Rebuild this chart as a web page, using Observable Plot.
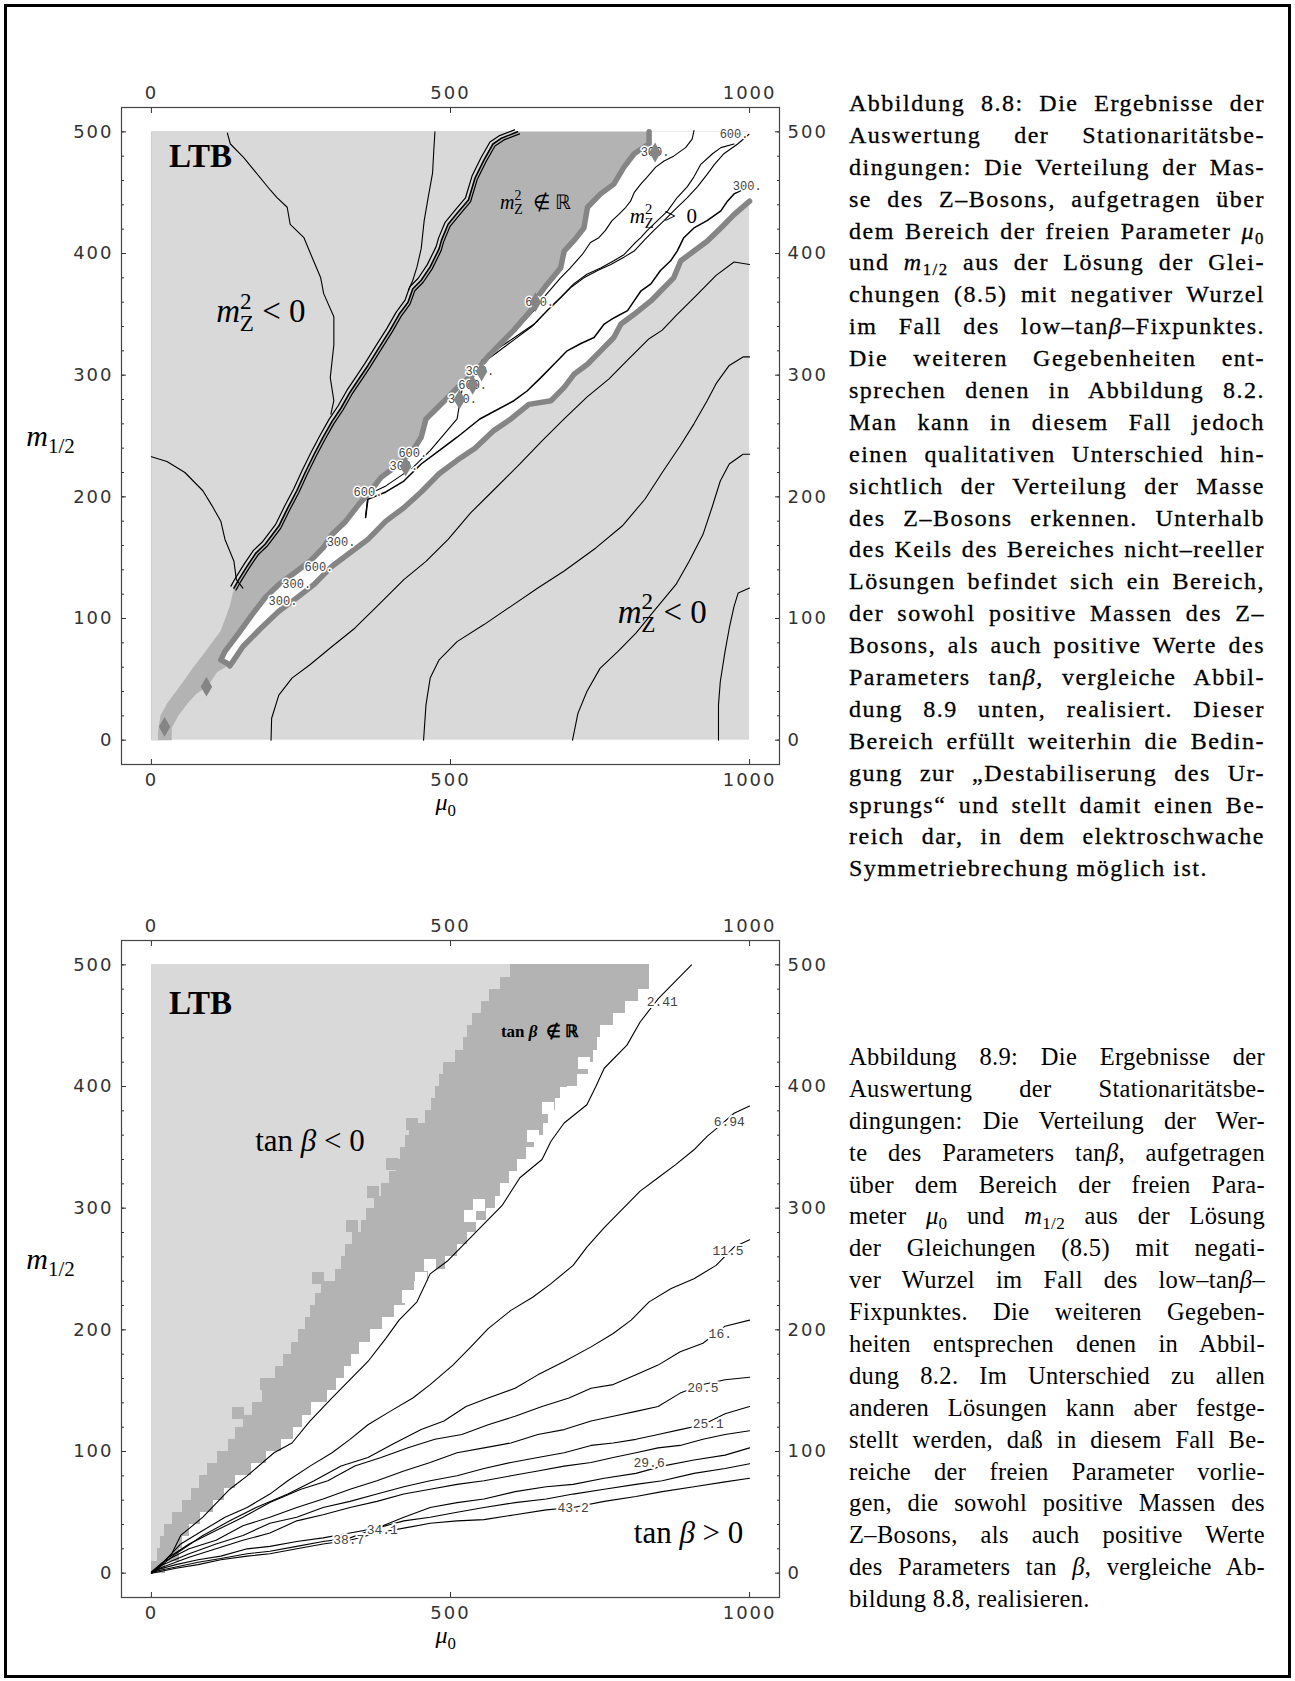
<!DOCTYPE html>
<html><head><meta charset="utf-8">
<script src="https://cdn.jsdelivr.net/npm/d3@7"></script>
<script src="https://cdn.jsdelivr.net/npm/@observablehq/plot@0.6"></script>
<style>
html,body{margin:0;padding:0;background:#fff;}
#page{position:relative;width:1295px;height:1681px;overflow:hidden;background:#fff;}
#border{position:absolute;left:4px;top:4px;width:1281px;height:1668px;border:3px solid #000;}
.chart{position:absolute;left:0;}
.cap{position:absolute;left:849px;width:416px;font-family:"Liberation Serif",serif;color:#000;}
.cap .ln{height:31.9px;line-height:31.9px;white-space:nowrap;}
.cap sub{font-size:70%;vertical-align:-0.3em;line-height:0;}
#capA{font-size:24px;letter-spacing:1.5px;-webkit-text-stroke:0.3px #000;}
#capB{font-size:24.5px;letter-spacing:0.35px;}
</style></head>
<body><div id="page"><div id="border"></div><div id="capA" class="cap"></div><div id="capB" class="cap"></div></div>
<script>
// ---------- shared ticks / ranges ----------
const xMajor = [0, 500, 1000];
const yMajor = [0, 100, 200, 300, 400, 500];
const yMinor = [0,20,40,60,80,100,120,140,160,180,200,220,240,260,280,300,320,340,360,380,400,420,440,460,480,500];
const muRange = [0, 1000];
const mRange = [0, 500];

// ---------- Abbildung 8.8 (m_Z) ----------
const mzWedgeLeft = [[612,500],[586,495],[571,490],[556,477],[541,462],[530,444],[511,433],[496,424],[485,411],[481,404],[466,389],[451,378],[437,371],[429,360],[414,350],[399,337],[381,323],[362,308],[347,297],[332,286],[317,273],[302,262],[287,249],[272,235],[257,220],[243,205],[228,191],[213,176],[190,161],[175,154],[160,143],[146,132],[138,125],[131,110],[116,90],[101,80],[86,70],[70,60],[56,50],[41,40],[26,30],[15,20],[11,7],[11,0],[0,0]];
const mzUpperGray = [[832,500],[832,490],[807,482],[790,471],[773,457],[751,449],[729,438],[723,421],[707,411],[690,402],[684,388],[662,375],[645,364],[634,353],[606,337],[584,326],[562,315],[539,301],[512,290],[490,279],[459,264],[451,249],[437,238],[414,227],[384,216],[362,202],[347,194],[325,180],[302,169],[287,158],[265,147],[235,136],[213,128],[190,117],[168,103],[146,88],[123,73],[116,66],[131,62]];
const mzLowerGray = [[1000,443],[974,432],[952,421],[929,410],[907,402],[885,394],[873,380],[851,369],[835,361],[807,350],[785,342],[773,331],[751,320],[729,309],[707,301],[690,290],[668,279],[631,276],[601,264],[571,254],[541,240],[511,230],[481,219],[451,204],[422,191],[392,180],[362,165],[332,154],[302,143],[272,128],[243,117],[213,106],[183,92],[153,77],[138,66],[131,61]];
const mzDarkTail = [[110,56],[95,45],[75,38],[60,30],[45,20],[34,10],[34,0]];
const mzCont1 = [[127,499],[132,490],[154,479],[199,452],[210,446],[227,438],[232,424],[255,413],[271,394],[283,380],[288,367],[305,348],[305,325],[299,298],[305,279],[300,268]];
const mzCont2 = [[0,233],[26,229],[56,220],[86,205],[101,193],[116,180],[123,165],[138,147],[142,132],[153,125]];
const mzCont3 = [[474,500],[472,484],[470,466],[463,447],[456,427],[451,404],[444,389],[437,378],[430,370]];
const mzContA = [[1000,391],[974,393],[944,382],[914,367],[877,349],[854,337],[832,330],[795,312],[765,297],[728,282],[690,264],[653,246],[616,227],[571,205],[534,187],[496,165],[459,147],[422,132],[377,110],[340,92],[302,77],[265,62],[235,51],[213,37],[201,18],[200,0]];
const mzContB = [[1000,315],[989,315],[966,308],[944,293],[929,279],[907,260],[884,242],[854,220],[825,198],[787,176],[743,158],[690,139],[646,125],[601,110],[556,95],[511,81],[481,66],[466,51],[459,29],[455,0]];
const mzContC = [[1000,235],[989,235],[966,227],[951,213],[937,191],[922,169],[899,147],[877,128],[840,106],[810,88],[780,73],[750,59],[728,40],[713,22],[704,0]];
const mzContD = [[1000,125],[981,121],[974,110],[966,92],[959,73],[951,48],[948,29],[948,0]];
const mzBand1 = [[907,501],[904,494],[893,487],[873,480],[857,476],[843,471],[829,463],[818,457],[807,450],[801,443],[793,438],[781,432],[770,427],[759,419],[748,413],[734,409],[720,399],[700,388],[684,380],[670,372],[656,364],[645,356],[628,347],[611,339],[595,331],[573,320],[550,309],[539,301],[520,290],[511,264],[466,238],[437,224],[392,209],[362,202],[358,183]];
const mzBand2 = [[974,490],[952,487],[938,482],[918,473],[907,463],[896,455],[879,446],[863,435],[846,427],[829,419],[818,413],[807,408],[790,399],[773,394],[751,388],[728,383],[706,375],[684,364],[667,356],[640,342],[610,332],[580,322],[552,312]];
const mzBand3 = [[999,498],[980,490],[957,482],[941,473],[929,465],[913,455],[896,446],[873,435],[857,427],[840,419],[824,411],[807,402],[790,397],[768,391],[746,386],[723,380],[701,372],[679,361],[662,353],[636,340],[606,329],[576,318],[549,308]];
const mzBand4 = [[999,455],[974,449],[963,443],[952,435],[929,427],[907,421],[890,413],[879,402],[868,394],[851,386],[835,375],[818,369],[807,361],[796,353],[773,347],[757,342],[740,331],[718,326],[695,320],[673,309],[651,298],[628,287],[606,279],[549,264],[511,249],[481,238],[451,227],[422,213],[392,204],[362,198],[358,183]];
const mzLabelX = [974, 996, 842, 649, 549, 537, 520, 437, 422, 362, 317, 280, 243, 220];
const mzLabelY = [498, 455, 483, 360, 303, 292, 280, 236, 225, 204, 163, 142, 128, 114];
const mzLabelT = ["600.","300.","300.","600.","300.","600.","300.","600.","300.","600.","300.","600.","300.","300."];
const mzDiamonds = [[842,483],[642,360],[552,303],[537,292],[515,280],[425,225],[92,44],[22,11]];

// ---------- Abbildung 8.9 (tan beta) ----------
const tbRowY = [0,10,20,30,40,50,60,70,80,90,100,110,120,130,140,150,160,170,180,190,200,210,220,230,240,250,260,270,280,290,300,310,320,330,340,350,360,370,380,390,400,410,420,430,440,450,460,470,480,490];
const tbLeft = [0,11,15,22,35,52,67,80,94,111,129,141,154,169,185,197,207,220,234,246,258,266,274,284,308,317,324,336,351,360,373,385,398,409,417,425,432,459,469,475,482,489,509,522,529,537,551,565,583,600];
const tbRight = [24,47,52,63,82,103,122,140,167,193,217,237,253,268,294,310,322,334,348,366,386,406,425,440,464,491,511,528,544,560,575,584,599,612,627,641,655,664,675,695,713,731,739,745,751,772,793,815,832,832];
const tbDarkSpecks = [[437,369],[403,336],[371,313],[336,285],[280,242],[192,155],[146,131]];
const tbWhiteSpecks = [[638,359],[664,382],[694,394],[724,419],[549,302],[534,293],[466,253],[451,242],[429,227]];
const tb241 = [[903,500],[877,487],[847,472],[817,453],[795,434],[757,415],[743,400],[728,385],[690,370],[668,355],[653,340],[616,325],[586,302],[556,287],[526,272],[496,257],[466,246],[444,223],[414,208],[392,193],[362,174],[332,159],[302,144],[265,125],[235,107],[205,99],[160,80],[131,69],[86,46],[49,31],[34,16],[4,1]];
const tb694 = [[1000,384],[974,378],[951,368],[929,359],[907,348],[877,336],[847,325],[817,314],[787,299],[757,284],[728,268],[705,253],[668,238],[638,227],[601,216],[563,201],[534,186],[504,171],[466,155],[437,144],[399,133],[362,122],[332,110],[302,99],[265,88],[228,76],[198,65],[160,54],[123,46],[86,35],[49,24],[26,12],[4,1]];
const tb115 = [[1000,274],[974,268],[944,253],[907,242],[869,234],[832,223],[802,208],[772,197],[735,186],[690,174],[646,163],[608,152],[563,144],[526,137],[489,125],[451,118],[407,107],[362,95],[317,88],[272,76],[228,65],[175,54],[131,43],[86,31],[41,16],[4,1]];
const tb160 = [[1000,208],[959,203],[922,189],[884,182],[847,171],[810,163],[772,155],[735,152],[698,144],[653,137],[608,129],[563,122],[519,114],[474,110],[429,103],[384,95],[340,88],[295,76],[250,69],[198,58],[153,46],[108,35],[63,24],[26,12],[4,1]];
const tb205 = [[1000,161],[959,159],[922,155],[884,148],[847,137],[810,133],[772,129],[735,125],[690,118],[646,114],[601,107],[556,103],[511,99],[466,91],[422,84],[377,76],[332,69],[287,61],[243,54],[198,46],[153,39],[108,27],[63,20],[19,9],[0,1]];
const tb251 = [[1000,137],[959,131],[922,122],[884,118],[847,114],[810,110],[772,107],[735,105],[690,99],[646,95],[601,91],[556,86],[511,80],[466,76],[422,71],[377,65],[332,59],[287,54],[243,46],[198,41],[153,31],[108,24],[63,16],[19,7],[0,1]];
const tb296 = [[1000,117],[959,114],[922,110],[884,105],[847,103],[810,99],[772,95],[735,91],[690,88],[646,84],[601,80],[556,76],[511,73],[466,69],[422,65],[377,59],[332,54],[287,48],[243,43],[198,33],[153,27],[108,20],[63,13],[19,5],[0,1]];
const tb341 = [[1000,103],[959,97],[907,93],[854,88],[810,82],[757,78],[705,73],[660,71],[608,67],[556,61],[511,58],[466,54],[422,46],[377,37],[332,33],[287,29],[243,26],[198,22],[160,20],[116,14],[78,11],[41,7],[11,3],[0,0]];
const tb387 = [[1000,90],[959,86],[907,82],[854,76],[810,73],[757,69],[705,65],[660,61],[608,58],[556,54],[511,50],[466,46],[422,43],[377,37],[332,29],[287,26],[243,22],[198,18],[160,16],[116,12],[78,9],[41,5],[11,2],[0,0]];
const tb432 = [[1000,78],[959,75],[907,71],[854,67],[810,63],[757,59],[705,54],[660,52],[608,48],[556,44],[511,43],[466,41],[422,37],[377,33],[332,27],[287,24],[243,20],[198,16],[160,14],[116,11],[78,7],[41,4],[11,1],[0,0]];
const tbLabelX = [854, 966, 964, 951, 922, 931, 832, 386, 330, 705];
const tbLabelY = [470, 371, 265, 197, 152, 123, 91, 36, 27, 54];
const tbLabelT = ["2.41","6.94","11.5","16.","20.5","25.1","29.6","34.1","38.7","43.2"];

// ---------- captions ----------
const captionA = [
 "Abbildung 8.8: Die Ergebnisse der",
 "Auswertung der Stationaritätsbe-",
 "dingungen: Die Verteilung der Mas-",
 "se des Z–Bosons, aufgetragen über",
 "dem Bereich der freien Parameter <i>μ</i><sub>0</sub>",
 "und <i>m</i><sub>1/2</sub> aus der Lösung der Glei-",
 "chungen (8.5) mit negativer Wurzel",
 "im Fall des low–tan<i>β</i>–Fixpunktes.",
 "Die weiteren Gegebenheiten ent-",
 "sprechen denen in Abbildung 8.2.",
 "Man kann in diesem Fall jedoch",
 "einen qualitativen Unterschied hin-",
 "sichtlich der Verteilung der Masse",
 "des Z–Bosons erkennen. Unterhalb",
 "des Keils des Bereiches nicht–reeller",
 "Lösungen befindet sich ein Bereich,",
 "der sowohl positive Massen des Z–",
 "Bosons, als auch positive Werte des",
 "Parameters tan<i>β</i>, vergleiche Abbil-",
 "dung 8.9 unten, realisiert. Dieser",
 "Bereich erfüllt weiterhin die Bedin-",
 "gung zur „Destabiliserung des Ur-",
 "sprungs“ und stellt damit einen Be-",
 "reich dar, in dem elektroschwache",
 "Symmetriebrechung möglich ist."
];
const captionB = [
 "Abbildung 8.9: Die Ergebnisse der",
 "Auswertung der Stationaritätsbe-",
 "dingungen: Die Verteilung der Wer-",
 "te des Parameters tan<i>β</i>, aufgetragen",
 "über dem Bereich der freien Para-",
 "meter <i>μ</i><sub>0</sub> und <i>m</i><sub>1/2</sub> aus der Lösung",
 "der Gleichungen (8.5) mit negati-",
 "ver Wurzel im Fall des low–tan<i>β</i>–",
 "Fixpunktes. Die weiteren Gegeben-",
 "heiten entsprechen denen in Abbil-",
 "dung 8.2. Im Unterschied zu allen",
 "anderen Lösungen kann aber festge-",
 "stellt werden, daß in diesem Fall Be-",
 "reiche der freien Parameter vorlie-",
 "gen, die sowohl positive Massen des",
 "Z–Bosons, als auch positive Werte",
 "des Parameters tan <i>β</i>, vergleiche Ab-",
 "bildung 8.8, realisieren."
];

// ---------- styling constants ----------
const LIGHT = "#d9d9d9", DARK = "#b3b3b3", GRAYLINE = "#858585";
const SERIF = "Liberation Serif";
const xy = {x: d => d[0], y: d => d[1]};

const MATH = {
  "mz<0": {F: 33, parts: [["m","i"],["2","sup"],["Z","subback"],[" < 0",""]]},
  "mz∉R": {F: 20, parts: [["m","i"],["2","sup"],["Z","subback"],["  ∉ ℝ",""]]},
  "mz>0": {F: 21, parts: [["m","i"],["2","sup"],["Z","subback"],["  >  0",""]]},
  "tb<0": {F: 31, parts: [["tan ",""],["β","i"],[" < 0",""]]},
  "tb>0": {F: 31, parts: [["tan ",""],["β","i"],[" > 0",""]]},
  "tb∉R": {F: 17, parts: [["tan ",""],["β","i"],["  ∉ ℝ",""]]},
  "m12": {F: 30, parts: [["m","i"],["1/2","sub"]]},
  "mu0": {F: 24, parts: [["μ","i"],["0","sub"]]}
};

function mathify(svg) {
  d3.select(svg).selectAll("text").each(function() {
    const spec = MATH[this.textContent];
    if (!spec) return;
    const F = spec.F, sel = d3.select(this);
    sel.text(null);
    let base = 0;
    for (const [t, kind] of spec.parts) {
      const ts = sel.append("tspan").text(t).attr("xml:space", "preserve");
      let b = 0;
      if (kind === "i") ts.attr("font-style", "italic");
      if (kind === "sup") { b = -0.42 * F; ts.attr("font-size", 0.7 * F); }
      if (kind === "sub") { b = 0.25 * F; ts.attr("font-size", 0.7 * F); }
      if (kind === "subback") { b = 0.26 * F; ts.attr("font-size", 0.7 * F).attr("dx", -0.36 * F); }
      if (b !== base) ts.attr("dy", b - base);
      base = b;
    }
  });
  d3.select(svg).selectAll('g[aria-label="x-axis tick label"], g[aria-label="y-axis tick label"]').attr("letter-spacing", "2px");
}

function axesMarks() {
  const c = {color: "#333", fontSize: 18, fontFamily: "DejaVu Sans", label: null};
  const fmt = d3.format("d");
  return [
    Plot.axisY(yMinor, {anchor: "left", tickSize: -3, tickPadding: 13, tickFormat: () => "", ...c}),
    Plot.axisY(yMinor, {anchor: "right", tickSize: -3, tickPadding: 13, tickFormat: () => "", ...c}),
    Plot.axisY(yMajor, {anchor: "left", tickSize: -5, tickPadding: 13, tickFormat: fmt, ...c}),
    Plot.axisY(yMajor, {anchor: "right", tickSize: -5, tickPadding: 13, tickFormat: fmt, ...c}),
    Plot.axisX(xMajor, {anchor: "top", tickSize: -5, tickPadding: 14, tickFormat: fmt, ...c}),
    Plot.axisX(xMajor, {anchor: "bottom", tickSize: -5, tickPadding: 14, tickFormat: fmt, ...c}),
    Plot.frame({stroke: "#444", strokeWidth: 1.2})
  ];
}

function titleMarks(m12y) {
  return [
    Plot.text(["m12"], {frameAnchor: "left", y: () => m12y, dx: -71, fontSize: 30, fontFamily: SERIF, fill: "#000", textAnchor: "middle"}),
    Plot.text(["mu0"], {frameAnchor: "bottom", x: () => 492, dy: 45, fontSize: 24, fontFamily: SERIF, fill: "#000", textAnchor: "middle"})
  ];
}

const base = {
  width: 820, height: 830, marginTop: 107, marginBottom: 66, marginLeft: 121, marginRight: 41,
  x: {domain: [-50, 1050]}, y: {domain: [-20, 520]},
  style: {background: "transparent", overflow: "visible"}
};

// ---- chart 1 ----
const bgRect = [{x1: muRange[0], x2: muRange[1], y1: mRange[0], y2: mRange[1]}];
const darkPoly = [[muRange[0], mRange[1]], ...mzUpperGray, ...mzDarkTail, [muRange[0], mRange[0]]];
const lightPoly = [[muRange[0], mRange[1]], ...mzWedgeLeft];
const whitePoly = [...mzUpperGray, ...mzLowerGray.slice().reverse(), [muRange[1], mRange[1]]];
const wedgeEdge = mzWedgeLeft.slice(0, 33);
const thin = {...xy, stroke: "#000", strokeWidth: 1.1};
const mzLabels = mzLabelT.map((t, i) => ({t, x: mzLabelX[i], y: mzLabelY[i]}));

const chart1 = Plot.plot({
  ...base,
  marks: [
    Plot.rect(bgRect, {x1: "x1", x2: "x2", y1: "y1", y2: "y2", fill: LIGHT}),
    Plot.line(darkPoly, {...xy, fill: DARK, stroke: "none"}),
    Plot.line(lightPoly, {...xy, fill: LIGHT, stroke: "none"}),
    Plot.line(whitePoly, {...xy, fill: "#fff", stroke: "none"}),
    Plot.line(mzCont1, thin), Plot.line(mzCont2, thin), Plot.line(mzCont3, thin),
    Plot.line(mzContA, thin), Plot.line(mzContB, thin), Plot.line(mzContC, thin), Plot.line(mzContD, thin),
    Plot.line(mzBand1, thin), Plot.line(mzBand2, thin), Plot.line(mzBand3, thin), Plot.line(mzBand4, {...thin, strokeWidth: 1.5}),
    Plot.line(wedgeEdge, {...xy, stroke: "#000", strokeWidth: 1.2, dx: -3, dy: -2}),
    Plot.line(wedgeEdge, {...xy, stroke: "#000", strokeWidth: 1.6}),
    Plot.line(wedgeEdge, {...xy, stroke: "#000", strokeWidth: 1.2, dx: 2, dy: 2}),
    Plot.line(mzUpperGray, {...xy, stroke: GRAYLINE, strokeWidth: 5.5}),
    Plot.line(mzLowerGray, {...xy, stroke: GRAYLINE, strokeWidth: 5.5}),
    Plot.text(mzLabels, {x: "x", y: "y", text: "t", fontSize: 12, fontFamily: "Liberation Mono", fill: "#444", stroke: "#fff", strokeWidth: 3}),
    Plot.dot(mzDiamonds, {...xy, symbol: "diamond", r: 6, fill: GRAYLINE, stroke: "none"}),
    Plot.text(["LTB"], {x: () => 82, y: () => 480, fontSize: 33, fontWeight: "bold", fontFamily: SERIF, fill: "#000"}),
    Plot.text(["mz<0"], {x: () => 183, y: () => 352, fontSize: 33, fontFamily: SERIF, fill: "#000"}),
    Plot.text(["mz<0"], {x: () => 854, y: () => 105, fontSize: 33, fontFamily: SERIF, fill: "#000"}),
    Plot.text(["mz∉R"], {x: () => 642, y: () => 442, fontSize: 20, fontFamily: SERIF, fill: "#000"}),
    Plot.text(["mz>0"], {x: () => 856, y: () => 431, fontSize: 21, fontFamily: SERIF, fill: "#000"}),
    ...titleMarks(250),
    ...axesMarks()
  ]
});

// ---- chart 2 ----
const rows = tbRowY.map((y, i) => ({y1: y, y2: y + 10, x0: muRange[0], left: tbLeft[i], right: tbRight[i]}));
const cell = (arr) => arr.map(([x, y]) => ({x1: x - 10, x2: x + 10, y1: y - 5, y2: y + 5}));
const tbLabels = tbLabelT.map((t, i) => ({t, x: tbLabelX[i], y: tbLabelY[i]}));
const tbLines = [tb241, tb694, tb115, tb160, tb205, tb251, tb296, tb341, tb387, tb432];

const chart2 = Plot.plot({
  ...base,
  marks: [
    Plot.rect(rows, {x1: "x0", x2: "left", y1: "y1", y2: "y2", fill: LIGHT, shapeRendering: "crispEdges"}),
    Plot.rect(rows, {x1: "left", x2: "right", y1: "y1", y2: "y2", fill: DARK, shapeRendering: "crispEdges"}),
    Plot.rect(cell(tbDarkSpecks), {x1: "x1", x2: "x2", y1: "y1", y2: "y2", fill: DARK, shapeRendering: "crispEdges"}),
    Plot.rect(cell(tbWhiteSpecks), {x1: "x1", x2: "x2", y1: "y1", y2: "y2", fill: "#fff", shapeRendering: "crispEdges"}),
    ...tbLines.map(l => Plot.line(l, {...xy, stroke: "#000", strokeWidth: 1.1})),
    Plot.text(tbLabels, {x: "x", y: "y", text: "t", fontSize: 13, fontFamily: "Liberation Mono", fill: "#444", stroke: "#fff", strokeWidth: 4}),
    Plot.text(["LTB"], {x: () => 82, y: () => 468, fontSize: 33, fontWeight: "bold", fontFamily: SERIF, fill: "#000"}),
    Plot.text(["tb<0"], {x: () => 265, y: () => 355, fontSize: 31, fontFamily: SERIF, fill: "#000"}),
    Plot.text(["tb>0"], {x: () => 898, y: () => 33, fontSize: 31, fontFamily: SERIF, fill: "#000"}),
    Plot.text(["tb∉R"], {x: () => 649, y: () => 445, fontSize: 17, fontWeight: "bold", fontFamily: SERIF, fill: "#000"}),
    ...titleMarks(258),
    ...axesMarks()
  ]
});

const page = document.getElementById("page");
[[chart1, 0], [chart2, 833]].forEach(([svg, top]) => {
  svg.classList.add("chart");
  svg.style.position = "absolute";
  svg.style.left = "0px";
  svg.style.top = top + "px";
  page.appendChild(svg);
  mathify(svg);
});

// ---- captions (justified line by line) ----
const CAP_W = 416;
function buildCaption(id, lines, top) {
  const el = document.getElementById(id);
  el.style.top = top + "px";
  lines.forEach((html, i) => {
    const row = document.createElement("div");
    row.className = "ln";
    const span = document.createElement("span");
    span.innerHTML = html;
    row.appendChild(span);
    el.appendChild(row);
    if (i < lines.length - 1) {
      const w = span.getBoundingClientRect().width;
      const n = (span.textContent.match(/ /g) || []).length;
      if (n) span.style.wordSpacing = ((CAP_W - w) / n) + "px";
    }
  });
}
buildCaption("capA", captionA, 88);
buildCaption("capB", captionB, 1041);
</script>
</body></html>
